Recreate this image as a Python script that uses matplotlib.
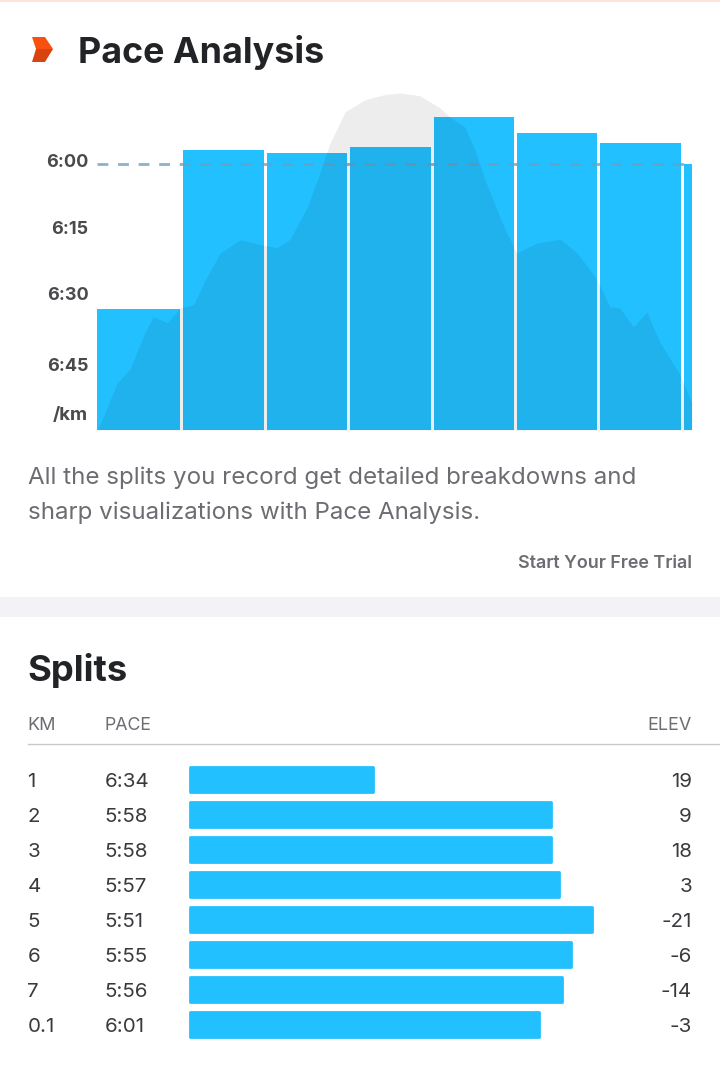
# encoding=utf-8
import matplotlib
matplotlib.use("Agg")
import matplotlib.pyplot as plt
from matplotlib.patches import Polygon, Rectangle
from matplotlib.transforms import ScaledTranslation

W, H = 720, 1074
plt.rcParams['font.family'] = ['Inter', 'DejaVu Sans']

# split length in km and pace in seconds per km
split_km = [1.026, 1.002, 0.990, 1.002, 0.990, 0.990, 1.002, 0.095]
split_pace_sec = [394.0, 358.0, 358.7, 357.3, 350.5, 354.1, 356.4, 361.2]
avg_pace_sec = 361.1
pace_ticks = [360, 375, 390, 406]
pace_tick_labels = ["6:00", "6:15", "6:30", "6:45"]

# elevation profile behind the bars
elev_dist = [0, 0.04, 0.24, 0.39, 0.55, 0.67, 0.84, 0.99, 1.15, 1.31, 1.47, 1.71, 1.98, 2.15,
             2.30, 2.51, 2.66, 2.78, 2.96, 3.20, 3.44, 3.62, 3.85, 4.09, 4.21, 4.39, 4.51,
             4.63, 4.75, 4.87, 5.01, 5.25, 5.53, 5.73, 5.97, 6.12, 6.24, 6.40, 6.56, 6.72,
             6.96, 7.10]
elev_m = [0, 1.0, 7.0, 9.0, 13.9, 16.9, 16.0, 18.2, 18.7, 22.8, 26.4, 28.4, 27.6, 27.2,
          28.4, 33.3, 38.4, 42.8, 47.5, 49.3, 50.1, 50.3, 49.9, 48.1, 46.7, 45.2, 41.8,
          37.3, 33.6, 29.9, 26.4, 27.9, 28.5, 26.4, 22.4, 18.4, 18.2, 15.4, 17.6, 13.0,
          8.2, 4.0]

# splits table
table_km = ["1", "2", "3", "4", "5", "6", "7", "0.1"]
table_pace = ["6:34", "5:58", "5:58", "5:57", "5:51", "5:55", "5:56", "6:01"]
table_elev = [19, 9, 18, 3, -21, -6, -14, -3]
table_speed = [2.538, 2.793, 2.793, 2.8046, 2.852, 2.822, 2.810, 2.776]

BLUE = "#22c0ff"
DARK = "#222326"
GREY = "#6c6d72"
TICK = "#4a4a4e"


def axes_px(fig, left, top, right, bottom):
    # axes placed with pixel edges, y counted from the top of the image
    return fig.add_axes([left / W, 1 - bottom / H, (right - left) / W, (bottom - top) / H])


fig = plt.figure(figsize=(W / 100, H / 100), dpi=100, facecolor="white")

# page layer in pixels for the text and the decoration
page = fig.add_axes([0, 0, 1, 1])
page.set_xlim(0, W)
page.set_ylim(H, 0)
page.axis("off")
page.add_patch(Rectangle((0, 0), W, 2, color="#fbe4d8", lw=0))
page.add_patch(Rectangle((0, 597), W, 20, color="#f3f3f7", lw=0))
page.plot([28, W], [744, 744], color="#c9c9cb", lw=1)
page.add_patch(Polygon([(32, 37), (45, 37), (53, 49), (36, 49)], color="#f9500f", lw=0))
page.add_patch(Polygon([(36, 49), (53, 49), (45, 62), (32, 62)], color="#d9430f", lw=0))

page.text(78, 53, "Pace Analysis", fontsize=25.8, fontweight="bold", color=DARK, va="center")
page.text(28, 478, "All the splits you record get detailed breakdowns and", fontsize=17.4, color=GREY, va="center")
page.text(28, 513, "sharp visualizations with Pace Analysis.", fontsize=17.4, color=GREY, va="center")
page.text(692, 564, "Start Your Free Trial", fontsize=12.9, fontweight="semibold", color=GREY, va="center", ha="right")
page.text(88, 416, "/km", fontsize=13.5, fontweight="bold", color=TICK, va="center", ha="right")

page.text(27.5, 671, "Splits", fontsize=26.2, fontweight="bold", color=DARK, va="center")
page.text(27.5, 725, "KM", fontsize=13, color=GREY, va="center")
page.text(104.5, 725, "PACE", fontsize=12.8, color=GREY, va="center")
page.text(692, 725, "ELEV", fontsize=13, color=GREY, va="center", ha="right")

# pace chart, scales: 83.8 px per km, 4.417 px per second
ax = axes_px(fig, 97, 90, 692, 430)
ax.patch.set_alpha(0)
lefts = [sum(split_km[:i]) for i in range(len(split_km))]
widths = [k - 0.036 for k in split_km[:-1]] + [split_km[-1]]
ax.bar(lefts, [421.4 - p for p in split_pace_sec], bottom=split_pace_sec, width=widths,
       align="edge", color=BLUE, linewidth=0, zorder=2)
ax.set_xlim(0, 7.1)
ax.set_ylim(421.4, 344.4)
ax.set_yticks(pace_ticks)
ax.set_yticklabels(pace_tick_labels, fontsize=13, fontweight="bold", color=TICK)
ax.tick_params(axis="y", length=0, pad=6)
for t in ax.get_yticklabels():
    t.set_transform(t.get_transform() + ScaledTranslation(0, -2 / 100, fig.dpi_scale_trans))
ax.set_xticks([])
for s in ax.spines.values():
    s.set_visible(False)
ax.plot([0, 7.1], [avg_pace_sec, avg_pace_sec], color="#6f9fbc", alpha=0.8, lw=2,
        dashes=(3.9, 3.5), zorder=4)

# elevation on its own scale, 6.7 px per metre
ax_e = ax.twinx()
ax_e.set_ylim(0, 340 / 6.7)
ax_e.fill_between(elev_dist, elev_m, 0, color="black", alpha=0.07, lw=0, zorder=3)
ax_e.axis("off")

# splits table bars, row pitch 35 px, round edge adds 1.4 px each side
ax2 = axes_px(fig, 189, 762, 692, 1042)
ax2.patch.set_alpha(0)
rows = list(range(len(table_km)))
base = 2.2715
ax2.barh(rows, [v - base - 3.8 / 698 for v in table_speed], left=base + 1.4 / 698, height=0.72,
         color=BLUE, edgecolor=BLUE, linewidth=2, joinstyle="round")
ax2.set_xlim(base, base + 503 / 698)
ax2.set_ylim(7.5, -0.5)
ax2.axis("off")

for i in rows:
    y = 782 + 35 * i
    page.text(27.5, y, table_km[i], fontsize=14.8, color="#3a3a3e", va="center")
    page.text(104.5, y, table_pace[i], fontsize=14.8, color="#3a3a3e", va="center")
    page.text(692, y, str(table_elev[i]), fontsize=14.8, color="#3a3a3e", va="center", ha="right")

fig.savefig("out.png", dpi=100)
